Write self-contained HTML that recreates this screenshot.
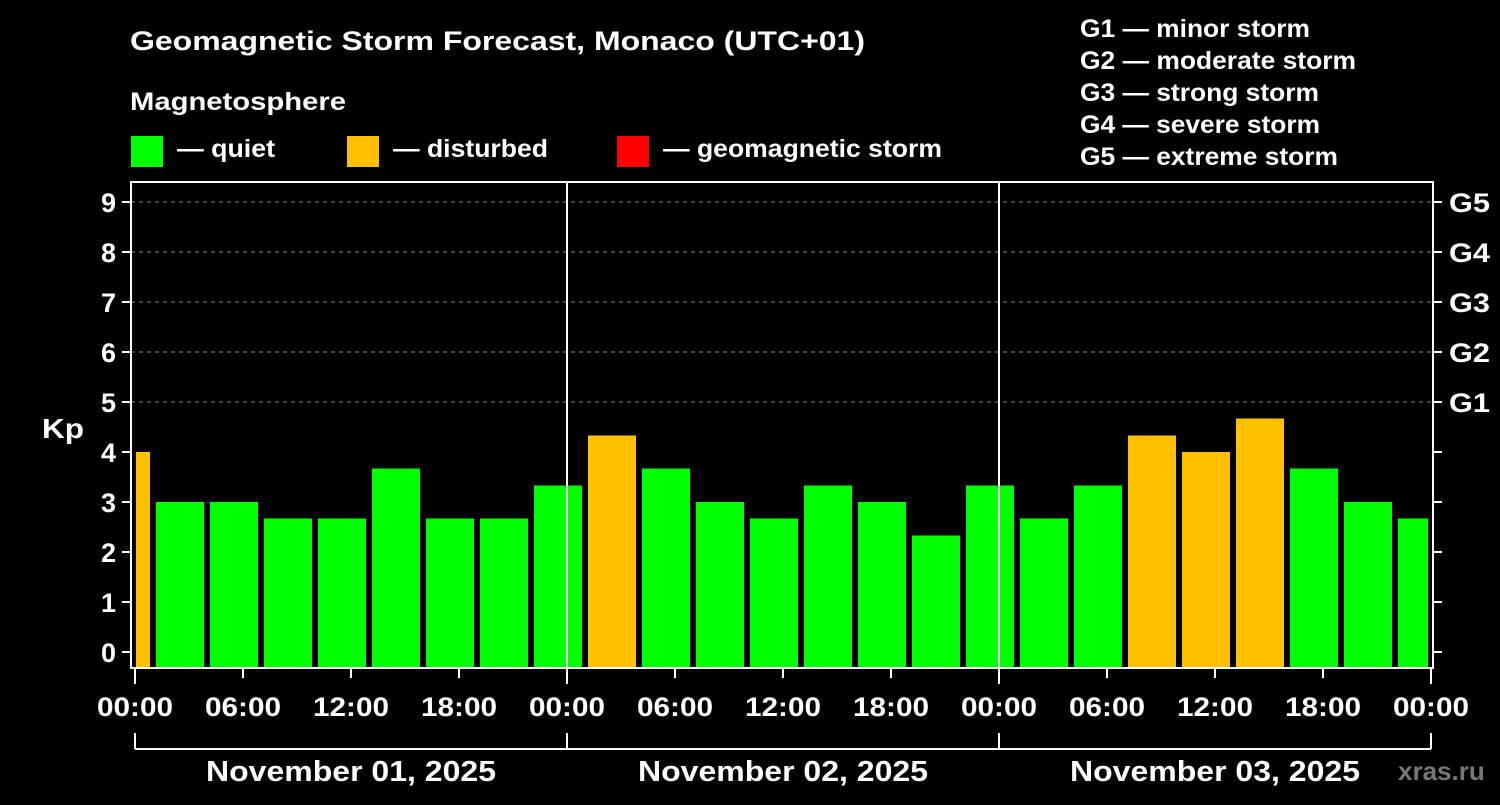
<!DOCTYPE html>
<html><head><meta charset="utf-8"><style>
html,body{margin:0;padding:0;background:#000;}
svg text{font-family:"Liberation Sans",Arial,sans-serif;font-weight:bold;fill:#fff;}
</style></head><body>
<svg id="chart" width="1500" height="800" xmlns="http://www.w3.org/2000/svg">
<rect x="0" y="0" width="1500" height="800" fill="#000"/>
<text x="130" y="50" font-size="27" textLength="735" lengthAdjust="spacingAndGlyphs">Geomagnetic Storm Forecast, Monaco (UTC+01)</text>
<text x="130" y="110" font-size="25" textLength="216" lengthAdjust="spacingAndGlyphs">Magnetosphere</text>
<g><rect x="131" y="136" width="32" height="31" fill="#00ff00"/><text x="177" y="157" font-size="25" textLength="98" lengthAdjust="spacingAndGlyphs">— quiet</text></g>
<g><rect x="347" y="136" width="32" height="31" fill="#ffc000"/><text x="393" y="157" font-size="25" textLength="155" lengthAdjust="spacingAndGlyphs">— disturbed</text></g>
<g><rect x="617" y="136" width="32" height="31" fill="#ff0000"/><text x="663" y="157" font-size="25" textLength="279" lengthAdjust="spacingAndGlyphs">— geomagnetic storm</text></g>
<g font-size="25">
<text x="1080" y="37" textLength="230" lengthAdjust="spacingAndGlyphs">G1 — minor storm</text>
<text x="1080" y="69" textLength="276" lengthAdjust="spacingAndGlyphs">G2 — moderate storm</text>
<text x="1080" y="101" textLength="239" lengthAdjust="spacingAndGlyphs">G3 — strong storm</text>
<text x="1080" y="133" textLength="240" lengthAdjust="spacingAndGlyphs">G4 — severe storm</text>
<text x="1080" y="165" textLength="258" lengthAdjust="spacingAndGlyphs">G5 — extreme storm</text>
</g>
<text x="42" y="438" font-size="28" textLength="42" lengthAdjust="spacingAndGlyphs">Kp</text>
<text x="1398" y="780" font-size="26" style="fill:#777">xras.ru</text>
<g id="grid"></g>
<g id="bars"></g>
<g id="axes"></g>
</svg>
<script>
const hourLabels=["00:00","06:00","12:00","18:00"];
const dayLabels=["November 01, 2025","November 02, 2025","November 03, 2025"];
const gLabels=["G1","G2","G3","G4","G5"];
const kpValues=[4.0,3.0,3.0,2.67,2.67,3.67,2.67,2.67,3.33,4.33,3.67,3.0,2.67,3.33,3.0,2.33,3.33,2.67,3.33,4.33,4.0,4.67,3.67,3.0,2.67];
const startHour=-2;
const NS="http://www.w3.org/2000/svg";
const X0=135,PX_H=18,Y0=652,PX_K=50,TOP=182,BOT=668,LEFT=131,RIGHT=1433;
const xs=h=>X0+h*PX_H, ys=k=>Y0-k*PX_K;
function el(tag,attrs,parent){const e=document.createElementNS(NS,tag);for(const k in attrs)e.setAttribute(k,attrs[k]);parent.appendChild(e);return e;}
const grid=document.getElementById('grid'),bars=document.getElementById('bars'),axes=document.getElementById('axes');
for(let k=5;k<=9;k++){
  const l=el('line',{x1:LEFT,x2:RIGHT,y1:ys(k),y2:ys(k),stroke:'#888','stroke-width':1,'stroke-dasharray':'4,4'},grid);
  
  
}
kpValues.forEach((v,i)=>{
  let h0=startHour+i*3,h1=h0+3;
  let x0=Math.max(xs(h0)+3,X0+1),x1=Math.min(xs(h1)-3,xs(72)-3);
  const c=v>=5?'#ff0000':(v>=4?'#ffc000':'#00ff00');
  const r=el('rect',{x:x0,y:ys(v),width:x1-x0,height:BOT-ys(v),fill:c},bars);
  
  
});
const fr=el('rect',{x:LEFT,y:TOP,width:RIGHT-LEFT,height:BOT-TOP,fill:'none',stroke:'#fff','stroke-width':2},axes);


for(let d=1;d<3;d++){
  const l=el('line',{x1:xs(d*24),x2:xs(d*24),y1:TOP,y2:BOT,stroke:'#fff','stroke-width':2},axes);
  
  
}
for(let k=0;k<=9;k++){
  el('line',{x1:122,x2:LEFT,y1:ys(k),y2:ys(k),stroke:'#fff','stroke-width':2},axes);
  el('line',{x1:RIGHT,x2:1442,y1:ys(k),y2:ys(k),stroke:'#fff','stroke-width':2},axes);
  const t=el('text',{x:116,y:ys(k)+10,'font-size':27,'text-anchor':'end'},axes);t.textContent=k;
  
  
}
gLabels.forEach((g,i)=>{
  const t=el('text',{x:1449,y:ys(5+i)+10,'font-size':27,textLength:41,lengthAdjust:'spacingAndGlyphs'},axes);t.textContent=g;
  
  
});
for(let h=0;h<=72;h+=6){
  const big=h%24===0;
  el('line',{x1:xs(h),x2:xs(h),y1:BOT,y2:big?684:678,stroke:'#fff','stroke-width':2},axes);
  const t=el('text',{x:xs(h)-38,y:716,'font-size':27,textLength:76,lengthAdjust:'spacingAndGlyphs'},axes);
  t.textContent=hourLabels[(h/6)%4];
  
  
}
el('line',{x1:xs(0),x2:xs(72),y1:749,y2:749,stroke:'#fff','stroke-width':2},axes);
for(let d=0;d<=3;d++) el('line',{x1:xs(d*24),x2:xs(d*24),y1:733,y2:749,stroke:'#fff','stroke-width':2},axes);
dayLabels.forEach((s,i)=>{
  const t=el('text',{x:xs(i*24+12)-145,y:781,'font-size':29,textLength:290,lengthAdjust:'spacingAndGlyphs'},axes);t.textContent=s;
  
  
});
</script>
</body></html>
